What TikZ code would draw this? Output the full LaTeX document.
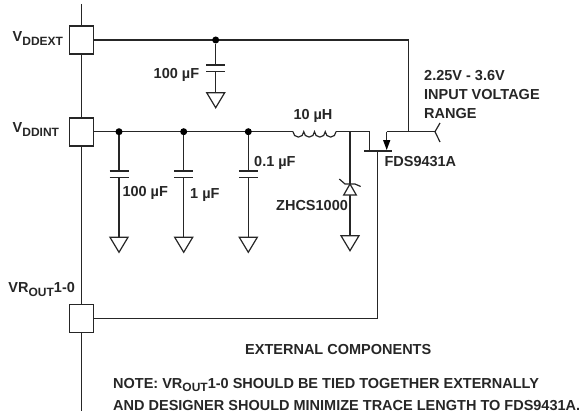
\documentclass[tikz,border=0pt]{standalone}
\usepackage{fontspec}
\setmainfont{Liberation Sans}
\newcommand{\lbl}{\fontsize{14.5}{18.7}\selectfont\bfseries}
\newcommand{\lsub}[1]{\raisebox{-3.5pt}{\fontsize{12}{12}\selectfont\bfseries #1}}
\tikzset{
 x=1pt,y=-1pt,
 wire/.style={draw=black!85,line width=1.2pt},
 pinbox/.style={draw=black!85,line width=1.2pt,fill=white,minimum width=24pt,minimum height=28pt,inner sep=0pt},
 dotn/.style={circle,fill=black,inner sep=0pt,minimum size=7pt},
 txt/.style={font=\lbl,text=black!85,inner sep=0pt,anchor=base west,align=left},
 gndsym/.pic={\draw[wire,line join=miter] (-9,0) -- (9,0) -- (0,15) -- cycle;},
}
\begin{document}
\begin{tikzpicture}
\useasboundingbox (0,0) rectangle (579,412);
% bus
\coordinate (bustop) at (81.7,4);
\coordinate (busbot) at (81.7,411);
\draw[wire] (bustop) -- (busbot);
\node[pinbox] (ext) at (81.7,40) {};
\node[pinbox] (int) at (81.7,132) {};
\node[pinbox] (vr) at (81.7,318.3) {};
\node[txt] (lext) at (12.5,42) {V\lsub{DDEXT}};
\node[txt] (lint) at (12.5,132.7) {V\lsub{DDINT}};
\node[txt] (lvr) at (8.3,292.7) {VR\lsub{OUT}1-0};
% top rail
\coordinate (rt) at (408.7,40);
\coordinate (rs) at (408.7,131.7);
\coordinate (in) at (435,131.7);
\coordinate (sc) at (386.7,131.7);
\draw[wire] (ext.east |- 0,40) -- (rt) -- (rs);
\draw[wire] (sc) -- (in);
\draw[wire] (440,123) -- (in) -- (440,142);
\node[dotn] (d0) at (215.7,40) {};
\draw[wire] (d0) -- (215.7,92.7);
\fill[white] (205,66) rectangle (226,71);
\draw[wire] (206.2,65) -- (225.2,65) (206.2,71.7) -- (225.2,71.7);
\path (215.7,92.7) pic {gndsym};
\node[txt] at (153.5,79) {100 µF};
% int rail
\coordinate (l1) at (293,131.7);
\coordinate (l2) at (336,131.7);
\coordinate (sw) at (369.3,131.7);
\coordinate (gt) at (369.3,151);
\draw[wire] (int.east |- 0,131.7) -- (l1);
\draw[wire] (l1) arc[start angle=180,end angle=0,radius=5.375] arc[start angle=180,end angle=0,radius=5.375] arc[start angle=180,end angle=0,radius=5.375] arc[start angle=180,end angle=0,radius=5.375];
\draw[wire] (l2) -- (sw) -- (gt);
\foreach \n/\x in {d1/119,d2/183.7,d3/248.3}{
 \node[dotn] (\n) at (\x,131.7) {};
 \draw[wire] (\n) -- (\x,237.3);
 \fill[white] (\x-10,172) rectangle (\x+10,177);
 \draw[wire] (\x-9.5,171) -- (\x+9.5,171) (\x-9.5,177.7) -- (\x+9.5,177.7);
 \path (\x,237.3) pic {gndsym};
}
\node[txt] at (122.3,196.7) {100 µF};
\node[txt] at (190,198) {1 µF};
\node[txt] at (254,166.7) {0.1 µF};
\node[txt] at (293.3,120) {10 µH};
% FET
\draw[wire] (364,151) -- (391.7,151);
\draw[wire] (sc) -- (386.7,140);
\draw[fill=black,draw=none] (383,140) -- (390.4,140) -- (386.7,150) -- cycle;
\coordinate (dr) at (377.7,151);
\draw[wire] (dr) -- (377.7,318.3) -- (vr.east |- 0,318.3);
\node[txt] at (384.3,166.7) {FDS9431A};
% Schottky
\coordinate (k) at (350,131.7);
\draw[wire] (k) -- (350,235.7);
\draw[wire,fill=white] (343.7,195) -- (356.3,195) -- (350,184) -- cycle;
\draw[wire] (339.3,179) -- (345,184) -- (355,184) -- (360.7,186.5);
\path (350,235.7) pic {gndsym};
\node[txt] at (276,210.7) {ZHCS1000};
% input label
\node[txt] at (424,80.7) {2.25V - 3.6V};
\node[txt] at (424,99.5) {INPUT VOLTAGE};
\node[txt] at (424,118) {RANGE};
\node[txt] at (245,354) {EXTERNAL COMPONENTS};
\node[txt] at (113,388) {NOTE: VR\lsub{OUT}1-0 SHOULD BE TIED TOGETHER EXTERNALLY};
\node[txt] at (113,410) {AND DESIGNER SHOULD MINIMIZE TRACE LENGTH TO FDS9431A.};
\end{tikzpicture}
\end{document}
